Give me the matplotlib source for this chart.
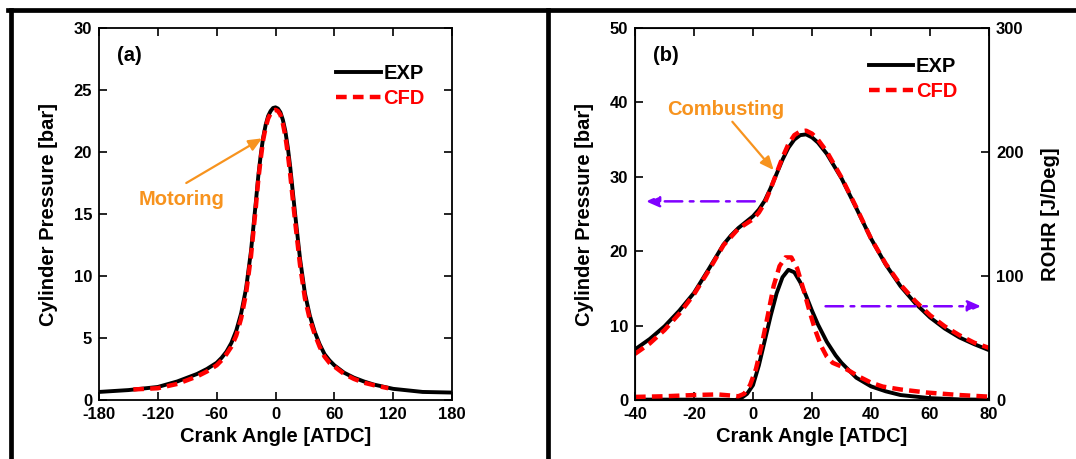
import matplotlib.pyplot as plt
from matplotlib.lines import Line2D

plt.rcParams['font.family'] = ['Liberation Sans', 'DejaVu Sans']
plt.rcParams['font.weight'] = 'bold'
plt.rcParams['axes.labelweight'] = 'bold'
plt.rcParams['axes.unicode_minus'] = False

# (a) motoring pressure
ca_exp_a = [-180, -150, -120, -100, -90, -80, -70, -60, -55, -50, -45, -40, -35, -30, -25,
            -20, -17.5, -15, -12.5, -10, -7.5, -5, -2.5, 0, 2.5, 5, 7.5, 10, 12.5,
            15, 17.5, 20, 25, 30, 35, 40, 45, 50, 55, 60, 70, 80, 90, 100, 120, 150, 180]
p_exp_a = [0.65, 0.8, 1.05, 1.5, 1.8, 2.1, 2.5, 3.0, 3.4, 3.9, 4.6, 5.6, 7.0, 9.0, 12.0,
           16.0, 18.1, 19.8, 21.2, 22.2, 22.9, 23.3, 23.55, 23.6, 23.5, 23.2, 22.6, 21.7, 20.4,
           18.8, 16.9, 15.0, 11.4, 8.6, 6.8, 5.5, 4.5, 3.7, 3.2, 2.8, 2.2, 1.8, 1.5, 1.25,
           0.9, 0.65, 0.6]

ca_cfd_a = [-145, -120, -100, -90, -80, -70, -60, -55, -50, -45, -40, -35, -30, -25,
            -20, -17.5, -15, -12.5, -10, -7.5, -5, -2.5, 0, 2.5, 5, 7.5, 10, 12.5,
            15, 17.5, 20, 25, 30, 35, 40, 45, 50, 55, 60, 70, 80, 90, 100, 115]
p_cfd_a = [0.85, 0.95, 1.3, 1.6, 1.9, 2.3, 2.8, 3.2, 3.7, 4.3, 5.2, 6.6, 8.6, 11.6,
           15.6, 17.8, 19.5, 21.0, 22.0, 22.7, 23.1, 23.35, 23.4, 23.3, 23.0, 22.3, 21.3, 19.9,
           18.2, 16.3, 14.4, 10.9, 8.2, 6.5, 5.3, 4.3, 3.5, 3.0, 2.7, 2.1, 1.7, 1.4, 1.2, 0.95]

# (b) combusting pressure and heat release
ca_exp_b = [-40, -35, -30, -25, -20, -15, -10, -7.5, -5, -2.5, 0, 2, 4, 6, 8, 10, 12,
            14, 16, 18, 20, 22, 25, 30, 35, 40, 45, 50, 55, 60, 65, 70, 75, 80]
p_exp_b = [6.8, 8.2, 9.9, 12.0, 14.4, 17.6, 20.9, 22.1, 23.1, 23.9, 24.7, 25.6, 26.8, 28.5,
           30.4, 32.3, 33.9, 35.0, 35.6, 35.7, 35.3, 34.6, 33.1, 29.8, 25.8, 21.7, 18.2,
           15.3, 13.0, 11.1, 9.6, 8.4, 7.5, 6.7]

ca_cfd_b = [-40, -35, -30, -25, -20, -15, -10, -5, 0, 2, 4, 6, 8, 10, 12, 14, 16, 18,
            20, 22, 25, 30, 35, 40, 45, 50, 55, 60, 65, 70, 75, 80]
p_cfd_b = [6.2, 7.6, 9.4, 11.6, 14.2, 17.4, 20.8, 23.0, 24.3, 25.2, 26.5, 28.4, 30.5,
           32.6, 34.4, 35.6, 36.1, 36.2, 35.8, 35.0, 33.4, 29.9, 25.9, 21.7, 18.3, 15.5,
           13.3, 11.4, 9.9, 8.7, 7.7, 7.0]

ca_hr_exp = [-40, -20, -10, -6, -4, -2, 0, 2, 4, 6, 8, 10, 12, 14, 16, 18, 20, 22, 25,
             28, 30, 35, 40, 45, 50, 60, 70, 80]
hr_exp = [0.3, 0.3, 0.2, 0, 1.5, 5, 12, 28, 48, 68, 86, 99, 105, 103, 95, 84, 72, 61, 47,
          36, 30, 18, 11, 7, 4, 1.5, 0.5, 0.2]

ca_hr_cfd = [-40, -30, -20, -12, -7, -5, -3, -1, 1, 3, 5, 7, 9, 11, 13, 15, 17, 19, 21,
             23, 25, 27, 30, 33, 36, 40, 44, 50, 59, 70, 80]
hr_cfd = [2.5, 3.0, 4.0, 4.5, 3.5, 3.0, 5, 12, 25, 45, 68, 92, 108, 115, 115, 106, 90, 73,
          57, 44, 35, 30, 27, 23, 18.8, 14, 10.8, 8.5, 6, 4, 2.7]

RED = '#FF0000'
ORANGE = '#F7931E'
PURPLE = '#8000FF'
DASH = (2.4, 1.4)
LW_EXP = 2.8
LW_CFD = 3.2

fig = plt.figure(figsize=(10.76, 4.59), dpi=100)
ax_a = fig.add_axes([99 / 1076, 59 / 459, 353 / 1076, 372 / 459])
ax_b = fig.add_axes([635 / 1076, 59 / 459, 354 / 1076, 372 / 459])

for ax in (ax_a, ax_b):
    ax.tick_params(direction='in', length=6, width=1.2, labelsize=12,
                   top=True, right=True, pad=5)
    for s in ax.spines.values():
        s.set_linewidth(1.3)

# ---- (a)
ax_a.plot(ca_exp_a, p_exp_a, color='black', lw=LW_EXP, label='EXP')
ax_a.plot(ca_cfd_a, p_cfd_a, color=RED, lw=LW_CFD, dashes=DASH, label='CFD')
ax_a.set_xlim(-180, 180)
ax_a.set_ylim(0, 30)
ax_a.set_xticks([-180, -120, -60, 0, 60, 120, 180])
ax_a.set_yticks([0, 5, 10, 15, 20, 25, 30])
ax_a.set_xlabel('Crank Angle [ATDC]', fontsize=14.5, labelpad=4)
ax_a.set_ylabel('Cylinder Pressure [bar]', fontsize=14.5, labelpad=11)
ax_a.text(0.05, 0.927, '(a)', transform=ax_a.transAxes, fontsize=14.5, va='center')
leg = ax_a.legend(loc='upper left', bbox_to_anchor=(0.672, 0.903), frameon=False,
                  fontsize=14.5, handlelength=2.2, handletextpad=0.15,
                  borderpad=0, borderaxespad=0, labelspacing=0.3)
leg.get_texts()[1].set_color(RED)
ax_a.annotate('', xy=(-13.7, 21.1), xytext=(-91, 17.5),
              arrowprops=dict(arrowstyle='-|>,head_length=0.8,head_width=0.35',
                              color=ORANGE, lw=1.6, shrinkA=0, shrinkB=0))
ax_a.text(-96, 16.2, 'Motoring', color=ORANGE, fontsize=14.5, ha='center', va='center')

# ---- (b)
ax_r = ax_b.twinx()
ax_b.plot(ca_exp_b, p_exp_b, color='black', lw=LW_EXP, label='EXP')
ax_b.plot(ca_cfd_b, p_cfd_b, color=RED, lw=LW_CFD, dashes=DASH, label='CFD')
ax_r.plot(ca_hr_exp, hr_exp, color='black', lw=LW_EXP)
ax_r.plot(ca_hr_cfd, hr_cfd, color=RED, lw=LW_CFD, dashes=DASH)
ax_b.set_xlim(-40, 80)
ax_b.set_ylim(0, 50)
ax_r.set_ylim(0, 300)
ax_b.set_xticks([-40, -20, 0, 20, 40, 60, 80])
ax_b.set_yticks([0, 10, 20, 30, 40, 50])
ax_r.set_yticks([0, 100, 200, 300])
ax_b.tick_params(right=False)
ax_r.tick_params(direction='in', length=6, width=1.2, labelsize=12, pad=5)
ax_b.set_xlabel('Crank Angle [ATDC]', fontsize=14.5, labelpad=4)
ax_b.set_ylabel('Cylinder Pressure [bar]', fontsize=14.5, labelpad=11)
ax_r.set_ylabel('ROHR [J/Deg]', fontsize=14.5, labelpad=13)
ax_b.text(0.05, 0.927, '(b)', transform=ax_b.transAxes, fontsize=14.5, va='center')
leg = ax_b.legend(loc='upper left', bbox_to_anchor=(0.66, 0.923), frameon=False,
                  fontsize=14.5, handlelength=2.2, handletextpad=0.15,
                  borderpad=0, borderaxespad=0, labelspacing=0.3)
leg.get_texts()[1].set_color(RED)
ax_b.annotate('', xy=(7, 30.9), xytext=(-7, 37.4),
              arrowprops=dict(arrowstyle='-|>,head_length=0.8,head_width=0.35',
                              color=ORANGE, lw=1.6, shrinkA=0, shrinkB=0))
ax_b.text(-9.4, 39.0, 'Combusting', color=ORANGE, fontsize=14.5, ha='center', va='center')
dashdot = (0, (7, 3, 1.5, 3))
ax_b.annotate('', xy=(-36.3, 26.7), xytext=(0.6, 26.7),
              arrowprops=dict(arrowstyle='-|>,head_length=0.8,head_width=0.35',
                              color=PURPLE, lw=1.8, linestyle=dashdot,
                              shrinkA=0, shrinkB=0))
ax_b.annotate('', xy=(77.3, 12.6), xytext=(24.6, 12.6),
              arrowprops=dict(arrowstyle='-|>,head_length=0.8,head_width=0.35',
                              color=PURPLE, lw=1.8, linestyle=dashdot,
                              shrinkA=0, shrinkB=0))

# panel frame
for xs, ys in [((8 / 1076, 1.0), (1 - 10 / 459, 1 - 10 / 459)),
               ((10.5 / 1076, 10.5 / 1076), (0, 1 - 10 / 459)),
               ((548 / 1076, 548 / 1076), (0, 1 - 10 / 459))]:
    fig.add_artist(Line2D(xs, ys, color='black', lw=3.4, solid_capstyle='projecting'))

fig.savefig('out.png', dpi=100)
